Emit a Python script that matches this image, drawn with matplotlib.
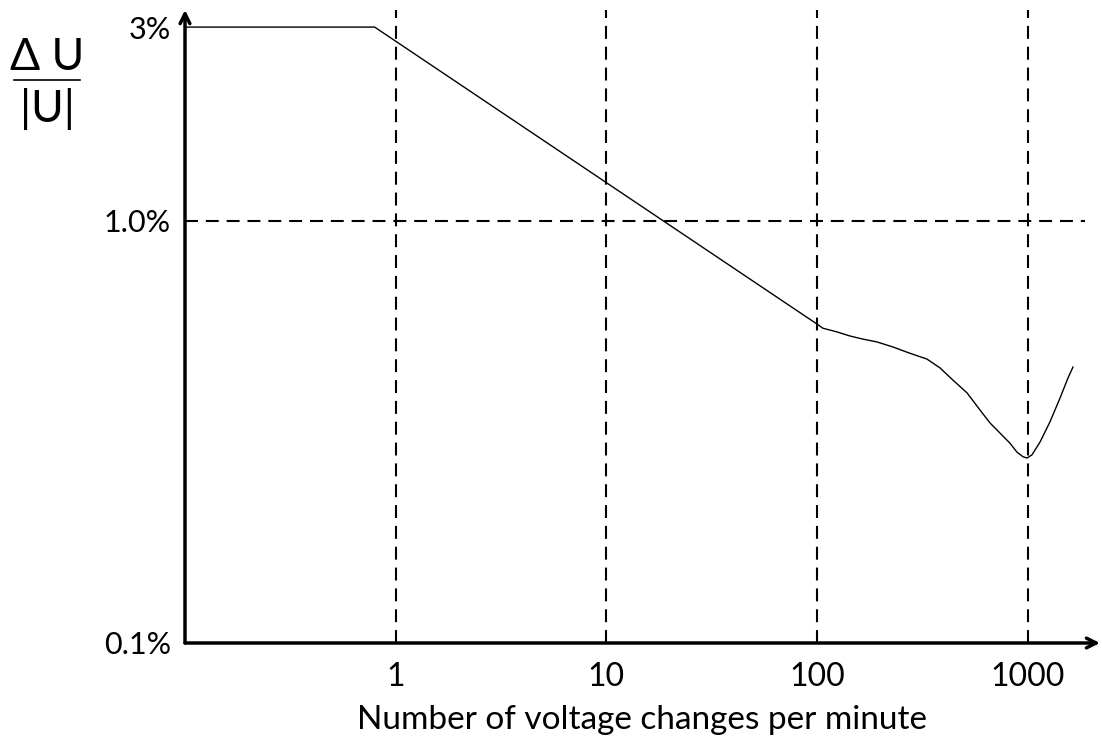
import matplotlib
matplotlib.use("Agg")
import matplotlib.pyplot as plt
from matplotlib.lines import Line2D

plt.rcParams['font.family'] = ['Lato', 'DejaVu Sans']

# Data (log-log)
freq = [0.1, 0.795, 100, 106.8, 124.5, 143.5, 165.4, 192.8, 229.6, 273.6, 333, 384,
        442.6, 516, 595, 663, 740, 826, 891, 952, 995, 1051, 1147, 1279, 1427, 1557, 1644]
limit = [2.87, 2.87, 0.569, 0.556, 0.545, 0.533, 0.524, 0.516, 0.502, 0.486, 0.470, 0.448,
         0.419, 0.391, 0.356, 0.332, 0.314, 0.297, 0.283, 0.276, 0.274, 0.279, 0.299, 0.334,
         0.380, 0.424, 0.450]

xticks = [1, 10, 100, 1000]
xtick_labels = ["1", "10", "100", "1000"]
yticks = [0.1, 1.0, 2.87]
ytick_labels = ["0.1%", "1.0%", "3%"]

W, H = 1102, 737
fig = plt.figure(figsize=(W / 100, H / 100), dpi=100)
ax = fig.add_axes([185 / W, 1 - 643 / H, (1100 - 185) / W, (643 - 10) / H])
ax.set_xscale('log')
ax.set_yscale('log')
xmax = 2209
ymax = 3.15
ax.set_xlim(0.1, xmax)
ax.set_ylim(0.1, ymax)

for s in ax.spines.values():
    s.set_visible(False)

# dashed guide lines
dash = dict(color='black', lw=1.5, linestyle=(0, (6.2, 3.8)))
ax.vlines(xticks, 0.1, ymax, **dash)
ax.hlines([1.0], 0.1, 1876, **dash)

# curve
ax.plot(freq, limit, color='black', lw=1.0, solid_joinstyle='round')

# axes with arrows
arrow = dict(arrowstyle='->,head_length=0.7,head_width=0.35', lw=2.5, color='black',
             shrinkA=0, shrinkB=0)
ax.annotate('', xy=(0, 1), xytext=(0, 0), xycoords='axes fraction',
            textcoords='axes fraction', arrowprops=arrow, annotation_clip=False)
ax.annotate('', xy=(1, 0), xytext=(0, 0), xycoords='axes fraction',
            textcoords='axes fraction', arrowprops=arrow, annotation_clip=False)

ax.set_xticks(xticks)
ax.set_xticklabels(xtick_labels, fontsize=23)
ax.set_yticks(yticks)
ax.set_yticklabels(ytick_labels, fontsize=22)
ax.minorticks_off()
ax.tick_params(axis='x', length=0, pad=14)
ax.tick_params(axis='y', length=0, pad=10)

ax.set_xlabel("Number of voltage changes per minute", fontsize=24, labelpad=9)

# y label as fraction
fig.text(47 / W, 1 - 57 / H, "Δ U", fontsize=32, ha='center', va='center')
fig.add_artist(Line2D([14 / W, 80 / W], [1 - 80 / H, 1 - 80 / H], color='black', lw=1.2,
                      transform=fig.transFigure))
fig.text(47 / W, 1 - 109 / H, "|U|", fontsize=32, ha='center', va='center')

fig.savefig("out.png", dpi=100)
